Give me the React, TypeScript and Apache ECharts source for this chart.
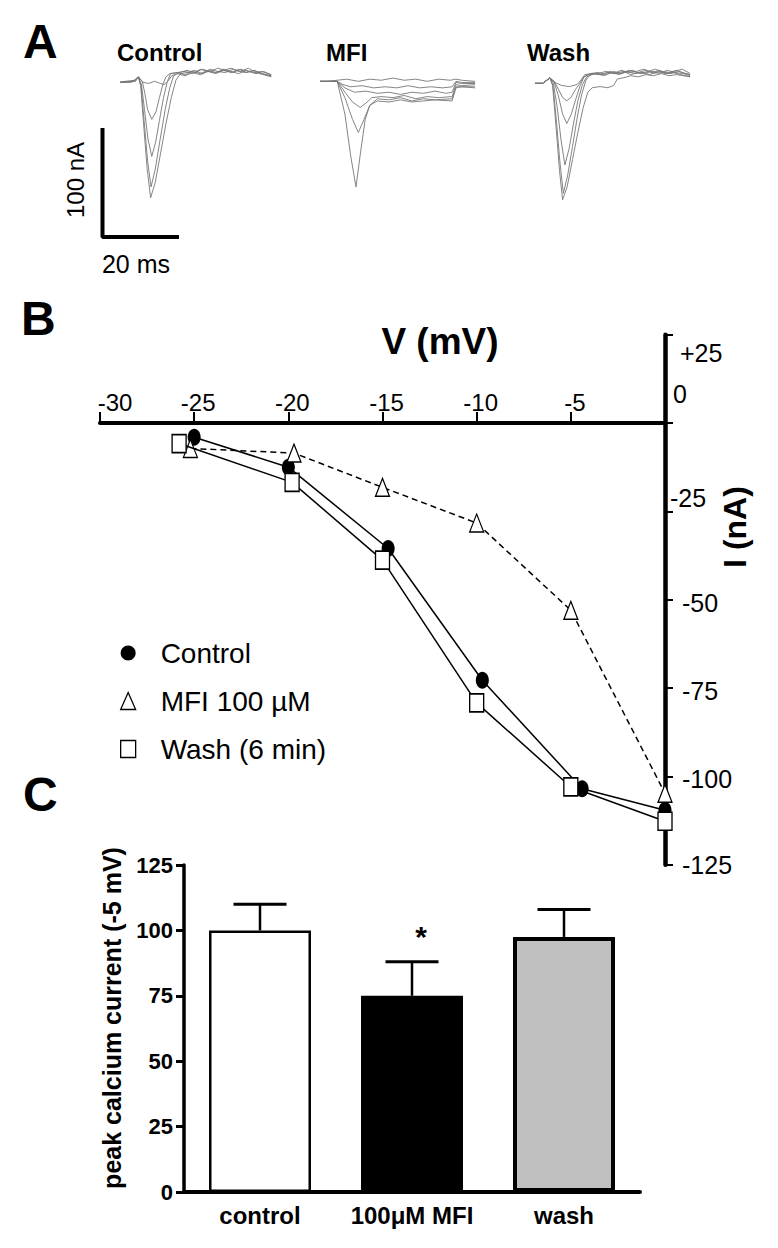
import React, { useEffect, useRef } from "react";
import * as echarts from "echarts";

const FONT = "'Liberation Sans', Arial, Helvetica, sans-serif";

// ---------- Panel A: current sweeps, [time (ms), current (nA)] ----------
const controlSweeps: number[][][] = [
  [[0,0],[1.5,1],[3,0],[4.8,5],[6,0],[7.5,-1],[9,1],[10.5,-1],[11.5,-2],[12.5,1],[13.5,6],[15,8],[17,6],[19,9],[21,7],[23,10],[25,8],[27,11],[29,9],[31,12],[33,9],[35,11],[37,8],[39.5,6]],
  [[0,0],[2,1],[4,2],[4.8,5],[5.8,1],[6.5,-10],[7.2,-25],[8.3,-34],[9.4,-27],[10.3,-14],[11.2,-2],[12,5],[13,8],[15,9],[17,7],[19,10],[21,8],[23,11],[25,9],[27,12],[29,10],[31,8],[33,11],[35,9],[37,10],[39.5,7]],
  [[0,0],[2,0],[4,2],[4.8,5],[5.6,-2],[6.4,-25],[7.3,-52],[8.3,-68],[9.3,-55],[10.3,-35],[11.3,-15],[12.3,0],[13.2,8],[15,9],[17,10],[19,8],[21,12],[23,10],[25,9],[27,11],[29,13],[31,10],[33,9],[35,11],[37,8],[39.5,6]],
  [[0,0],[2,1],[4,1],[4.8,5],[5.5,-3],[6.3,-35],[7.2,-72],[8.1,-96],[9.2,-80],[10.5,-52],[11.8,-25],[13,-5],[14,6],[15.5,9],[17.5,11],[19.5,9],[21.5,12],[23.5,10],[25.5,13],[27.5,11],[29.5,9],[31.5,12],[33.5,10],[35.5,8],[37.5,10],[39.5,7]],
  [[0,0],[2,0],[4,1],[4.8,5],[5.4,-3],[6.2,-40],[7.1,-80],[8,-106],[9.2,-92],[10.6,-65],[12,-38],[13.4,-14],[14.6,2],[15.8,8],[17.5,9],[19.5,11],[21.5,8],[23.5,12],[25.5,10],[27.5,9],[29.5,12],[31.5,10],[33.5,13],[35.5,9],[37.5,7],[39.5,5]],
];
const mfiSweeps: number[][][] = [
  [[0,0],[2,0],[4.5,1],[7,2],[10,0],[13,2],[16,1],[19,3],[22,1],[25,2],[28,0],[31,2],[34,1],[35.5,2],[37,1],[40.5,0]],
  [[0,0],[2,0],[4.5,0],[6,-3],[8,-5],[11,-4],[14,-6],[17,-5],[20,-6],[23,-4],[26,-6],[29,-5],[32,-6],[34.5,-5],[35.5,0],[37,-1],[40.5,-1]],
  [[0,0],[2,0],[4.5,0],[6.5,-6],[9,-10],[12,-9],[15,-11],[18,-10],[21,-12],[24,-10],[27,-11],[30,-9],[33,-11],[34.5,-10],[35.5,-1],[37,-2],[40.5,-2]],
  [[0,0],[2,0],[4.5,0],[6.5,-10],[8.5,-19],[10.5,-24],[12,-20],[13.5,-15],[16,-14],[19,-15],[22,-13],[25,-16],[28,-14],[31,-15],[34.5,-14],[35.5,-3],[37,-4],[40.5,-3]],
  [[0,0],[2,0],[4.5,0],[6.5,-15],[8.5,-35],[10,-47],[11.5,-35],[13,-22],[15,-16],[18,-17],[21,-15],[24,-18],[27,-16],[30,-17],[34.5,-16],[35.5,-5],[37,-5],[40.5,-6]],
  [[0,0],[2,0],[4.5,0],[6.5,-30],[8,-68],[9.4,-97],[10.6,-65],[11.8,-35],[13,-22],[15,-18],[18,-19],[21,-17],[24,-19],[27,-18],[30,-17],[34.5,-18],[35.5,-6],[37,-5],[40.5,-5]],
];
const washSweeps: number[][][] = [
  [[0,0],[2,0],[3.9,5],[5,1],[7,-2],[9,-3],[11,-1],[12,3],[13,8],[15,9],[17,8],[19,10],[21,9],[23,11],[25,8],[27,10],[29,12],[31,9],[33,11],[35,10],[37,12],[39,9],[40.5,7]],
  [[0,0],[2,0],[3.9,5],[5,2],[6.2,-6],[7.2,-13],[8.3,-16],[9.4,-13],[10.5,-6],[11.7,0],[12.8,6],[14,8],[16,9],[18,7],[20,10],[22,8],[24,11],[26,9],[28,10],[30,8],[32,11],[34,9],[36,10],[38,8],[40.5,6]],
  [[0,0],[2,0],[3.9,5],[5,1],[6,-10],[7.2,-28],[8.3,-37],[9.5,-28],[10.7,-14],[11.8,-2],[12.8,6],[14.5,9],[16.5,10],[18.5,8],[20.5,11],[22.5,9],[24.5,12],[26.5,10],[28.5,9],[30.5,11],[32.5,9],[34.5,12],[36.5,10],[38.5,9],[40.5,8]],
  [[0,0],[2,0],[3.9,5],[4.8,0],[5.8,-22],[6.8,-52],[7.8,-75],[8.9,-60],[10,-38],[11.2,-16],[12.4,-1],[13.5,6],[15.5,9],[17.5,8],[19.5,11],[21.5,9],[23.5,10],[25.5,12],[27.5,9],[29.5,11],[31.5,13],[33.5,10],[35.5,9],[37.5,11],[40.5,8]],
  [[0,0],[2,0],[3.9,5],[4.7,-2],[5.6,-35],[6.5,-72],[7.4,-101],[8.5,-85],[9.8,-58],[11,-32],[12.2,-10],[13.3,3],[14.5,8],[16.5,9],[18.5,11],[20.5,9],[22.5,12],[24.5,10],[26.5,11],[28.5,13],[30.5,10],[32.5,12],[34.5,9],[36.5,11],[38.5,13],[40.5,9]],
  [[0,0],[2,0],[3.9,5],[4.6,-2],[5.5,-40],[6.4,-80],[7.2,-107],[8.4,-95],[9.8,-70],[11.2,-45],[12.6,-22],[13.8,-8],[15,-4],[17,-3],[19,-4],[20.5,-2],[21.5,4],[23,5],[25,7],[27,6],[29,8],[31,7],[33,9],[35,7],[37,8],[40.5,6]],
];
const traceTitles = ["Control", "MFI", "Wash"];
// scale bar: 100 nA, 20 ms
const scaleBar = [[0, 100], [0, 0], [20, 0]];

// ---------- Panel B: I-V relation, [V (mV), I (nA)] ----------
const ivControl = [[-25, -4], [-20, -12.5], [-14.7, -35.5], [-9.7, -72.8], [-4.4, -103.5], [0, -109.6]];
const ivMFI = [[-25.2, -7.2], [-19.7, -8.5], [-15, -18.2], [-10, -28.3], [-5, -53], [0, -104.8]];
const ivWash = [[-25.8, -5.8], [-19.8, -16.8], [-15, -38.8], [-10, -79.2], [-5, -103], [0, -112.7]];
const ivSeriesNames = ["Control", "MFI 100 µM", "Wash (6 min)"];

// ---------- Panel C: peak calcium current at -5 mV ----------
const barCategories = ["control", "100μM MFI", "wash"];
const barMeans = [100, 75, 97.5];
const barErrorTops = [110, 88, 108];
const barSignificant = [false, true, false];
const barFills = ["#ffffff", "#000000", "#c0c0c0"];
const barBorderWidths = [2.5, 2.5, 4];

const ELLIPSE =
  "path://M10,0 C15.5,0 20,4.5 20,10 C20,15.5 15.5,20 10,20 C4.5,20 0,15.5 0,10 C0,4.5 4.5,0 10,0Z";

function buildOption(): any {
  const ivHeight = 530;
  const ivZeroOffset = -(ivHeight * 25) / 150;

  const traceGrids = [
    { left: 120, top: 66, width: 157, height: 147 },
    { left: 320, top: 65, width: 157, height: 147 },
    { left: 535, top: 67, width: 157, height: 147 },
  ];

  const grid = [
    { left: 102.5, top: 128, width: 76.5, height: 109 },
    ...traceGrids,
    { left: 100, top: 334.7, width: 565, height: ivHeight },
    { left: 184, top: 865, width: 456, height: 327 },
  ];

  const hiddenX = (gi: number, min: number, max: number) => ({
    gridIndex: gi, type: "value", min, max, show: false,
  });
  const hiddenY = hiddenX;

  const ivYKey = (v: number) =>
    v === 25 ? "p" : v === 0 ? "z" : v === -25 ? "a" : v === -125 ? "e" : "m";
  const tickText = { fontSize: 25, color: "#000", fontFamily: FONT };

  const xAxis = [
    hiddenX(0, 0, 20),
    hiddenX(1, 0, 41),
    hiddenX(2, 0, 41),
    hiddenX(3, 0, 41),
    {
      gridIndex: 4, type: "value", min: -30, max: 0, interval: 5,
      position: "top", offset: ivZeroOffset,
      axisLine: { onZero: false, lineStyle: { color: "#000", width: 4 } },
      axisTick: { length: 11, lineStyle: { color: "#000", width: 2 } },
      splitLine: { show: false },
      axisLabel: {
        margin: 9,
        showMinLabel: true,
        formatter: (v: number) => (v === 0 ? "" : v === -30 ? `{f|${v}}` : `{o|${v}}`),
        rich: {
          f: { ...tickText, fontSize: 24, padding: [0, 0, 0, 30] },
          o: { ...tickText, fontSize: 24, padding: [0, 0, 0, 8] },
        },
      },
    },
    {
      gridIndex: 5, type: "category", data: barCategories,
      axisLine: { lineStyle: { color: "#000", width: 4 } },
      axisTick: { show: false },
      axisLabel: {
        interval: 0, hideOverlap: false,
        margin: 11, fontSize: 24, fontWeight: "bold", color: "#000", fontFamily: FONT,
      },
    },
  ];

  const yAxis = [
    hiddenY(0, 0, 100),
    hiddenY(1, -120, 15),
    hiddenY(2, -120, 15),
    hiddenY(3, -120, 15),
    {
      gridIndex: 4, type: "value", min: -125, max: 25, interval: 25,
      position: "right",
      axisLine: { show: true, onZero: false, lineStyle: { color: "#000", width: 4.5 } },
      axisTick: { show: true, length: 8, lineStyle: { color: "#000", width: 2 } },
      splitLine: { show: false },
      axisLabel: {
        margin: 5,
        showMinLabel: true,
        showMaxLabel: true,
        formatter: (v: number) => `{${ivYKey(v)}|${v > 0 ? "+" + v : v}}`,
        rich: {
          p: { ...tickText, padding: [36, 0, 0, 10] },
          z: { ...tickText, padding: [0, 0, 58, 3] },
          a: { ...tickText, padding: [0, 0, 26, 0] },
          m: { ...tickText, padding: [6, 0, 0, 12] },
          e: { ...tickText, padding: [0, 0, 0, 12] },
        },
      },
    },
    {
      gridIndex: 5, type: "value", min: 0, max: 125, interval: 25,
      axisLine: { show: true, lineStyle: { color: "#000", width: 3.5 } },
      axisTick: { show: true, length: 8, lineStyle: { color: "#000", width: 3 } },
      splitLine: { show: false },
      axisLabel: {
        margin: 11, fontSize: 22, fontWeight: "bold", color: "#000", fontFamily: FONT,
        showMinLabel: true, showMaxLabel: true,
      },
    },
  ];

  const traceSeries: any[] = [];
  [controlSweeps, mfiSweeps, washSweeps].forEach((sweeps, k) => {
    sweeps.forEach((sw) => {
      traceSeries.push({
        type: "line", xAxisIndex: k + 1, yAxisIndex: k + 1, data: sw,
        symbol: "none", silent: true, clip: false,
        lineStyle: { color: "#777777", width: 0.9 },
      });
    });
  });

  const ivSeries = [
    {
      name: ivSeriesNames[0], type: "line", xAxisIndex: 4, yAxisIndex: 4, data: ivControl,
      symbol: ELLIPSE, symbolSize: [13, 17], clip: false, z: 3,
      itemStyle: { color: "#000" },
      lineStyle: { color: "#000", width: 1.5 },
    },
    {
      name: ivSeriesNames[1], type: "line", xAxisIndex: 4, yAxisIndex: 4, data: ivMFI,
      symbol: "triangle", symbolSize: [14, 18], clip: false, z: 4,
      itemStyle: { color: "#fff", borderColor: "#000", borderWidth: 1.3 },
      lineStyle: { color: "#000", width: 1.5, type: [6, 4] },
    },
    {
      name: ivSeriesNames[2], type: "line", xAxisIndex: 4, yAxisIndex: 4, data: ivWash,
      symbol: "rect", symbolSize: [14, 18], clip: false, z: 5,
      itemStyle: { color: "#fff", borderColor: "#000", borderWidth: 1.5 },
      lineStyle: { color: "#000", width: 1.5 },
    },
  ];

  const barSeries = {
    type: "bar", xAxisIndex: 5, yAxisIndex: 5, barWidth: 102,
    data: barMeans.map((v, i) => ({
      value: v,
      itemStyle: { color: barFills[i], borderColor: "#000", borderWidth: barBorderWidths[i] },
    })),
  };

  const errorSeries = {
    type: "custom", xAxisIndex: 5, yAxisIndex: 5, z: 4, silent: true,
    data: barMeans.map((v, i) => [i, v, barErrorTops[i], barSignificant[i] ? 1 : 0]),
    encode: { x: 0, y: [1, 2] },
    renderItem: (_params: any, api: any) => {
      const i = api.value(0);
      const base = api.coord([i, api.value(1)]);
      const top = api.coord([i, api.value(2)]);
      const half = 26.5;
      const children: any[] = [
        { type: "line", shape: { x1: top[0], y1: base[1], x2: top[0], y2: top[1] }, style: { stroke: "#000", lineWidth: 2.5 } },
        { type: "line", shape: { x1: top[0] - half, y1: top[1], x2: top[0] + half, y2: top[1] }, style: { stroke: "#000", lineWidth: 3 } },
      ];
      if (api.value(3)) {
        children.push({
          type: "text", x: top[0] + 9, y: top[1] - 25,
          style: { text: "*", fontSize: 30, fontWeight: "bold", fontFamily: FONT, fill: "#000", align: "center", verticalAlign: "middle" },
        });
      }
      return { type: "group", children };
    },
  };

  const scaleSeries = {
    type: "line", xAxisIndex: 0, yAxisIndex: 0, data: scaleBar, symbol: "none",
    clip: false, silent: true, lineStyle: { color: "#000", width: 4 },
  };

  const txt = (text: string, x: number, y: number, size: number, bold: boolean, align = "left", rotation = 0) => ({
    type: "text", x, y, rotation, silent: true,
    style: {
      text, fontSize: size, fontWeight: bold ? "bold" : "normal", fontFamily: FONT, fill: "#000",
      align, verticalAlign: "middle",
    },
  });

  const graphic = [
    txt("A", 23, 41, 48, true),
    txt("B", 21, 318, 48, true),
    txt("C", 23, 794, 48, true),
    txt(traceTitles[0], 117, 52, 24, true),
    txt(traceTitles[1], 326, 52, 24, true),
    txt(traceTitles[2], 527, 52, 24, true),
    txt("100 nA", 75, 180, 24, false, "center", Math.PI / 2),
    txt("20 ms", 136, 264, 25, false, "center"),
    txt("V (mV)", 440, 341, 37, true, "center"),
    txt("I (nA)", 735, 527, 32, true, "center", Math.PI / 2),
    txt("peak calcium current (-5 mV)", 112, 1018, 25, true, "center", Math.PI / 2),
  ];

  return {
    animation: false,
    backgroundColor: "#ffffff",
    grid,
    xAxis,
    yAxis,
    legend: {
      orient: "vertical", left: 115, top: 634,
      itemWidth: 15, itemHeight: 17, itemGap: 20,
      selectedMode: false,
      formatter: "{t|{name}}",
      textStyle: {
        rich: { t: { fontSize: 28, lineHeight: 30, color: "#000", fontFamily: FONT, padding: [0, 0, 0, 20] } },
      },
      data: [
        { name: ivSeriesNames[0], icon: ELLIPSE, itemStyle: { color: "#000", borderWidth: 0 } },
        { name: ivSeriesNames[1], icon: "triangle", itemStyle: { color: "#fff", borderColor: "#000", borderWidth: 1.3 } },
        { name: ivSeriesNames[2], icon: "rect", itemStyle: { color: "#fff", borderColor: "#000", borderWidth: 1.3 } },
      ],
    },
    graphic,
    series: [scaleSeries, ...traceSeries, ...ivSeries, barSeries, errorSeries],
  };
}

export default function App() {
  const ref = useRef<HTMLDivElement>(null);
  useEffect(() => {
    if (!ref.current) return;
    const chart = echarts.init(ref.current, null, { renderer: "svg" });
    chart.setOption(buildOption());
    return () => chart.dispose();
  }, []);
  return (
    <div
      ref={ref}
      style={{ position: "absolute", left: 0, top: 0, width: 778, height: 1248, background: "#fff" }}
    />
  );
}
